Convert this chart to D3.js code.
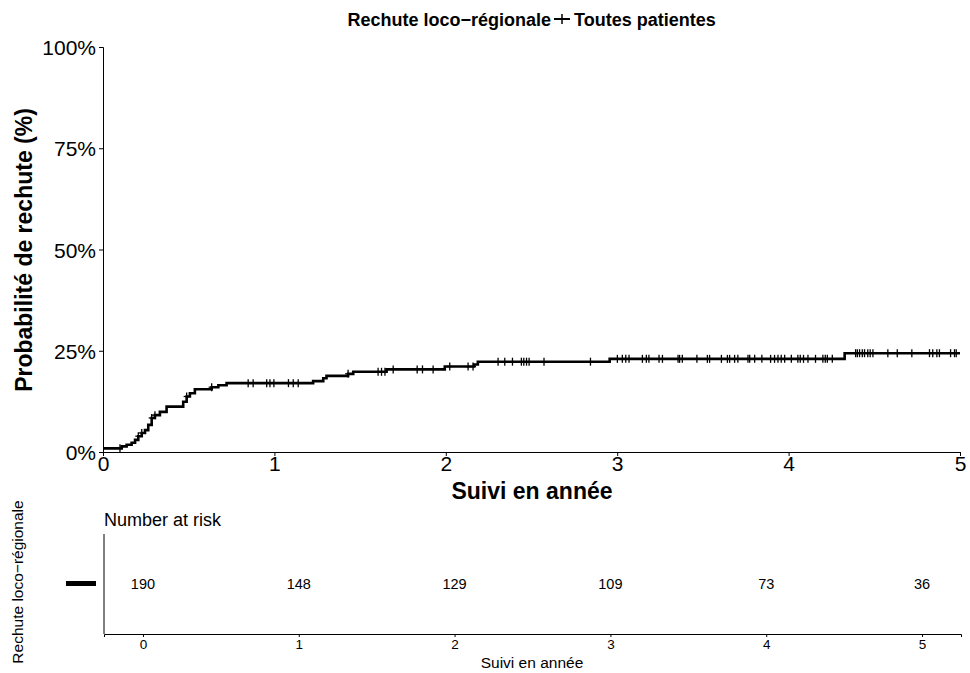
<!DOCTYPE html>
<html>
<head>
<meta charset="utf-8">
<script src="https://cdn.jsdelivr.net/npm/d3@7"></script>
<style>
  html, body { margin: 0; padding: 0; background: #fff; }
  svg { display: block; font-family: "Liberation Sans", Arial, Helvetica, sans-serif; }
</style>
</head>
<body>
<svg id="chart" width="970" height="673"></svg>
<script>
// Cumulative incidence of loco-regional relapse (step function)
const eventTimes = [0, 0.109, 0.138, 0.167, 0.187, 0.206, 0.226, 0.245, 0.264, 0.284, 0.303, 0.332, 0.371,
  0.468, 0.488, 0.507, 0.536, 0.634, 0.673, 0.721, 1.226, 1.285, 1.304, 1.430, 1.460, 1.654, 1.994,
  2.165, 2.187, 2.956, 4.327];
const cumIncidence = [0.009, 0.014, 0.018, 0.023, 0.030, 0.039, 0.047, 0.054, 0.067, 0.084, 0.091, 0.099, 0.112,
  0.124, 0.137, 0.145, 0.155, 0.160, 0.165, 0.170, 0.175, 0.182, 0.188, 0.193, 0.198, 0.204, 0.211,
  0.216, 0.223, 0.230, 0.244];
const followUpEnd = 5;

// Censored observations (years)
const censorTimes = [0.099, 0.206, 0.226, 0.284, 0.303, 0.488, 0.634, 0.847, 0.876, 0.955, 0.974, 0.997,
  1.082, 1.110, 1.139, 1.430, 1.605, 1.625, 1.645, 1.693, 1.833, 1.864, 1.926, 2.023, 2.130, 2.159,
  2.305, 2.344, 2.389, 2.441, 2.455, 2.471, 2.486, 2.573, 2.844, 3.001, 3.030, 3.050, 3.069, 3.147,
  3.170, 3.185, 3.244, 3.264, 3.355, 3.364, 3.380, 3.465, 3.526, 3.539, 3.608, 3.643, 3.656, 3.685,
  3.704, 3.763, 3.773, 3.802, 3.844, 3.895, 3.918, 3.938, 3.957, 3.977, 4.016, 4.054, 4.068, 4.087,
  4.113, 4.157, 4.200, 4.214, 4.226, 4.255, 4.391, 4.401, 4.414, 4.430, 4.443, 4.462, 4.476, 4.492,
  4.579, 4.634, 4.719, 4.822, 4.841, 4.865, 4.880, 4.945, 4.968, 4.978];

// Number at risk table
const riskTimes = [0, 1, 2, 3, 4, 5];
const riskCounts = [190, 148, 129, 109, 73, 36];

const xTicks = [0, 1, 2, 3, 4, 5];
const yTicks = [0, 0.25, 0.5, 0.75, 1];

const legendTitle = "Rechute loco\u2212régionale";
const groupLabel = "Toutes patientes";
const xTitle = "Suivi en année";
const yTitle = "Probabilité de rechute (%)";

const svg = d3.select("#chart");

// ---- main panel ----
const x = d3.scaleLinear().domain([0, 5]).range([103, 960]);
const y = d3.scaleLinear().domain([0, 1]).range([452, 47]);

const yAxis = svg.append("g").attr("transform", "translate(103,0)")
  .call(d3.axisLeft(y).tickValues(yTicks).tickFormat(d3.format(".0%")).tickSizeOuter(0).tickSize(4).tickPadding(3));
yAxis.selectAll("text").attr("font-size", 21).attr("fill", "#000").attr("dy", "0.36em");

const xAxis = svg.append("g").attr("transform", "translate(0,452)")
  .call(d3.axisBottom(x).tickValues(xTicks).tickFormat(d3.format("d")).tickSizeOuter(0).tickSize(4).tickPadding(0));
xAxis.selectAll("text").attr("font-size", 21).attr("fill", "#000");

svg.selectAll(".domain").attr("stroke", "#000").attr("stroke-width", 1);
svg.selectAll(".tick line").attr("stroke", "#000");

// step curve
const stepData = eventTimes.map((t, i) => [t, cumIncidence[i]]);
stepData.push([followUpEnd, cumIncidence[cumIncidence.length - 1]]);
svg.append("path")
  .datum(stepData)
  .attr("fill", "none")
  .attr("stroke", "#000")
  .attr("stroke-width", 2.6)
  .attr("d", d3.line().x(d => x(d[0])).y(d => y(d[1])).curve(d3.curveStepAfter));

// censor marks
const bis = d3.bisector(d => d).right;
const valueAt = t => cumIncidence[Math.max(0, bis(eventTimes, t) - 1)];
const marks = svg.append("g").attr("stroke", "#000").attr("stroke-width", 1.3);
censorTimes.forEach(t => {
  const cx = x(t), cy = y(valueAt(t));
  marks.append("line").attr("x1", cx).attr("x2", cx).attr("y1", cy - 4).attr("y2", cy + 4);
  marks.append("line").attr("x1", cx - 3).attr("x2", cx + 3).attr("y1", cy).attr("y2", cy);
});

// axis titles
svg.append("text").attr("x", 532).attr("y", 499).attr("text-anchor", "middle")
  .attr("font-size", 23).attr("font-weight", "bold").text(xTitle);
svg.append("text").attr("transform", "translate(32,250) rotate(-90)").attr("text-anchor", "middle")
  .attr("font-size", 23).attr("font-weight", "bold").text(yTitle);

// legend on top
const legend = svg.append("g");
legend.append("text").attr("x", 551).attr("y", 25.5).attr("text-anchor", "end")
  .attr("font-size", 18).attr("font-weight", "bold").text(legendTitle);
legend.append("line").attr("x1", 554).attr("x2", 570).attr("y1", 19).attr("y2", 19)
  .attr("stroke", "#000").attr("stroke-width", 2);
legend.append("line").attr("x1", 562).attr("x2", 562).attr("y1", 14).attr("y2", 24)
  .attr("stroke", "#000").attr("stroke-width", 1.5);
legend.append("text").attr("x", 574).attr("y", 25.5).attr("text-anchor", "start")
  .attr("font-size", 18).attr("font-weight", "bold").text(groupLabel);

// ---- risk table ----
const xr = d3.scaleLinear().domain([-0.25, 5.25]).range([104, 961]);
const riskTop = 534, riskBottom = 634;

svg.append("text").attr("x", 104).attr("y", 526).attr("font-size", 18).text("Number at risk");

svg.append("line").attr("x1", 104).attr("x2", 104).attr("y1", riskTop).attr("y2", riskBottom)
  .attr("stroke", "#000").attr("stroke-width", 1);
const xrAxis = svg.append("g").attr("transform", `translate(0,${riskBottom})`)
  .call(d3.axisBottom(xr).tickValues(xTicks).tickFormat(d3.format("d")).tickSizeOuter(0).tickSize(3).tickPadding(2));
xrAxis.select(".domain").attr("stroke", "#000");
xrAxis.selectAll(".tick line").attr("stroke", "#000");
xrAxis.selectAll("text").attr("font-size", 13.5).attr("fill", "#000");

svg.append("g").selectAll("text").data(riskTimes).join("text")
  .attr("x", d => xr(d)).attr("y", 584).attr("dy", "0.35em").attr("text-anchor", "middle")
  .attr("font-size", 14.5).text((d, i) => riskCounts[i]);

svg.append("line").attr("x1", 66).attr("x2", 96).attr("y1", 583.5).attr("y2", 583.5)
  .attr("stroke", "#000").attr("stroke-width", 5);

svg.append("text").attr("x", 532).attr("y", 668).attr("text-anchor", "middle")
  .attr("font-size", 15.5).text(xTitle);
svg.append("text").attr("transform", "translate(23,582) rotate(-90)").attr("text-anchor", "middle")
  .attr("font-size", 15.5).text(legendTitle);
</script>
</body>
</html>
